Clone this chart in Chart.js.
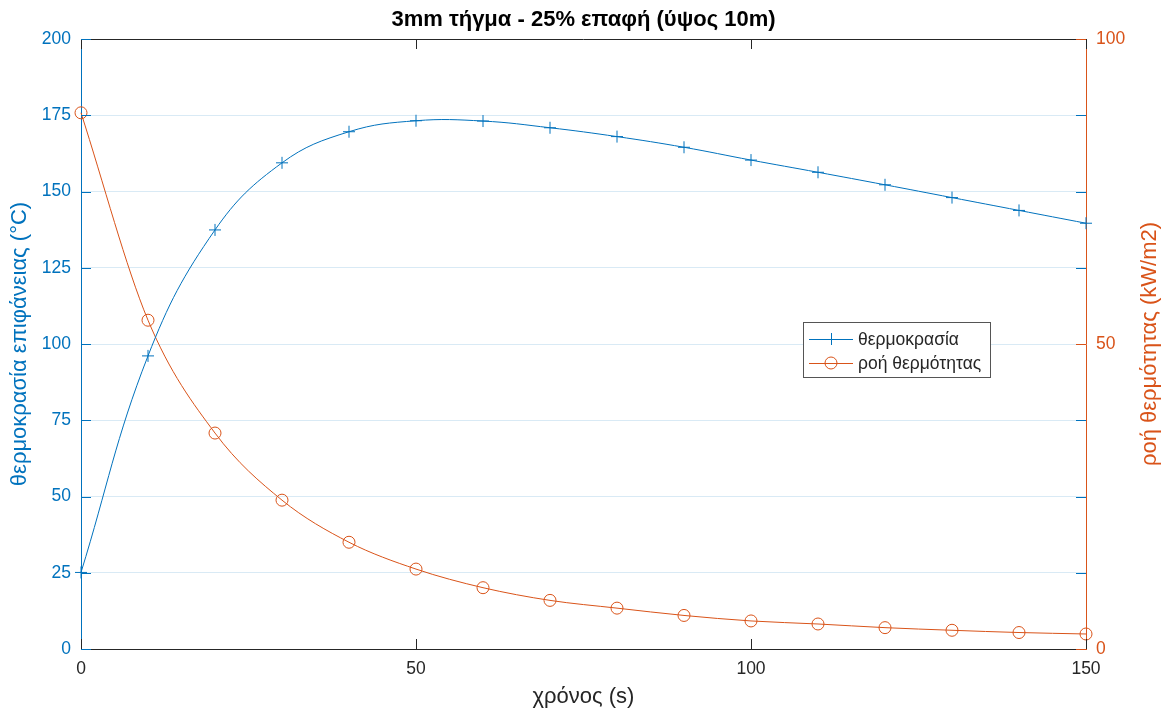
<!DOCTYPE html>
<html>
<head>
<meta charset="utf-8">
<script src="https://cdn.jsdelivr.net/npm/chart.js@4.4.1/dist/chart.umd.min.js"></script>
<style>
  html, body { margin: 0; padding: 0; background: #fff; }
  #wrap { width: 1166px; height: 715px; }
</style>
</head>
<body>
<div id="wrap"><canvas id="chart" width="1166" height="715"></canvas></div>
<script>
// ---- data ----
const timeS = [0, 10, 20, 30, 40, 50, 60, 70, 80, 90, 100, 110, 120, 130, 140, 150];
const temperature = [25.1, 96.1, 137.4, 159.4, 169.6, 173.2, 173.1, 170.9, 168.0, 164.5, 160.3, 156.3, 152.2, 148.0, 143.8, 139.6];
const heatFlux = [87.9, 53.9, 35.4, 24.4, 17.5, 13.1, 10.05, 7.97, 6.7, 5.5, 4.6, 4.1, 3.5, 3.07, 2.7, 2.46];

const xTicks = [0, 50, 100, 150];
const leftTicks = [0, 25, 50, 75, 100, 125, 150, 175, 200];
const rightTicks = [0, 50, 100];

const titleText = '3mm τήγμα - 25% επαφή (ύψος 10m)';
const xTitle = 'χρόνος (s)';
const leftTitle = 'θερμοκρασία επιφάνειας (°C)';
const rightTitle = 'ροή θερμότητας (kW/m2)';
const seriesNames = ['θερμοκρασία', 'ροή θερμότητας'];

const BLUE = '#0072BD';
const ORANGE = '#D95319';
const DARK = '#262626';
const FONT = '"Liberation Sans", Arial, sans-serif';
const TICK_SIZE = 17.5;

const toXY = (ys) => timeS.map((t, i) => ({ x: t, y: ys[i] }));

// MATLAB-like decorations: inward ticks, box, titles, legend
const decor = {
  id: 'decor',
  afterDraw(chart) {
    const { ctx, chartArea: a, scales } = chart;
    const L = 10;
    ctx.save();
    ctx.lineWidth = 1;

    // top border
    ctx.strokeStyle = DARK;
    ctx.beginPath();
    ctx.moveTo(a.left, a.top + 0.5);
    ctx.lineTo(a.right, a.top + 0.5);
    ctx.stroke();

    // x ticks (bottom + top)
    xTicks.forEach(v => {
      const px = Math.round(scales.x.getPixelForValue(v)) + 0.5;
      ctx.beginPath();
      ctx.moveTo(px, a.bottom); ctx.lineTo(px, a.bottom - L);
      ctx.moveTo(px, a.top); ctx.lineTo(px, a.top + L);
      ctx.stroke();
    });

    // left ticks (both sides, blue)
    ctx.strokeStyle = BLUE;
    leftTicks.forEach(v => {
      const py = Math.round(scales.yL.getPixelForValue(v)) + 0.5;
      ctx.beginPath();
      ctx.moveTo(a.left, py); ctx.lineTo(a.left + L, py);
      ctx.moveTo(a.right, py); ctx.lineTo(a.right - L, py);
      ctx.stroke();
    });

    // right ticks (orange)
    ctx.strokeStyle = ORANGE;
    rightTicks.forEach(v => {
      const py = Math.round(scales.yR.getPixelForValue(v)) + 0.5;
      ctx.beginPath();
      ctx.moveTo(a.right, py); ctx.lineTo(a.right - L, py);
      ctx.stroke();
    });

    // title
    ctx.fillStyle = '#000';
    ctx.font = 'bold 22px ' + FONT;
    ctx.textAlign = 'center';
    ctx.textBaseline = 'middle';
    ctx.fillText(titleText, (a.left + a.right) / 2, 20);

    // x title
    ctx.fillStyle = DARK;
    ctx.font = '22px ' + FONT;
    ctx.fillText(xTitle, (a.left + a.right) / 2, 697);

    // y titles (both read bottom -> top)
    const midY = (a.top + a.bottom) / 2;
    ctx.save();
    ctx.translate(20, midY);
    ctx.rotate(-Math.PI / 2);
    ctx.fillStyle = BLUE;
    ctx.fillText(leftTitle, 0, 0);
    ctx.restore();

    ctx.save();
    ctx.translate(1150, midY);
    ctx.rotate(-Math.PI / 2);
    ctx.fillStyle = ORANGE;
    ctx.fillText(rightTitle, 0, 0);
    ctx.restore();

    // legend
    const bx = 803.5, by = 322.5, bw = 187, bh = 55;
    ctx.fillStyle = '#fff';
    ctx.fillRect(bx, by, bw, bh);
    ctx.strokeStyle = '#555';
    ctx.strokeRect(bx, by, bw, bh);

    const rows = [
      { y: 339, color: BLUE, marker: 'cross', label: seriesNames[0] },
      { y: 363, color: ORANGE, marker: 'circle', label: seriesNames[1] },
    ];
    ctx.font = '17.5px ' + FONT;
    ctx.textAlign = 'left';
    rows.forEach(r => {
      ctx.strokeStyle = r.color;
      ctx.beginPath();
      ctx.moveTo(809, r.y + 0.5); ctx.lineTo(853, r.y + 0.5);
      ctx.stroke();
      ctx.beginPath();
      if (r.marker === 'cross') {
        ctx.moveTo(831.5, r.y - 6); ctx.lineTo(831.5, r.y + 6);
      } else {
        ctx.arc(831, r.y, 6, 0, Math.PI * 2);
      }
      ctx.stroke();
      ctx.fillStyle = DARK;
      ctx.fillText(r.label, 858, r.y + 1);
    });

    ctx.restore();
  }
};

new Chart(document.getElementById('chart'), {
  type: 'line',
  data: {
    datasets: [
      {
        label: seriesNames[0],
        data: toXY(temperature),
        yAxisID: 'yL',
        borderColor: BLUE,
        borderWidth: 1,
        tension: 0.4,
        pointStyle: 'cross',
        pointRadius: 6,
        pointBorderWidth: 1,
        pointBorderColor: BLUE,
        pointBackgroundColor: 'rgba(0,0,0,0)',
        clip: false,
      },
      {
        label: seriesNames[1],
        data: toXY(heatFlux),
        yAxisID: 'yR',
        borderColor: ORANGE,
        borderWidth: 1,
        cubicInterpolationMode: 'monotone',
        pointStyle: 'circle',
        pointRadius: 6,
        pointBorderWidth: 1,
        pointBorderColor: ORANGE,
        pointBackgroundColor: 'rgba(0,0,0,0)',
        clip: false,
      },
    ],
  },
  options: {
    responsive: false,
    animation: false,
    devicePixelRatio: 1,
    layout: { padding: { top: 39, left: 0, right: 0, bottom: 0 } },
    plugins: {
      legend: { display: false },
      tooltip: { enabled: false },
      title: { display: false },
    },
    scales: {
      x: {
        type: 'linear',
        min: 0, max: 150,
        afterFit: (s) => { s.height = 66; },
        afterBuildTicks: (s) => { s.ticks = xTicks.map(v => ({ value: v })); },
        grid: { display: false, drawTicks: false },
        border: { display: true, color: DARK, width: 1 },
        ticks: { color: DARK, font: { family: FONT, size: TICK_SIZE }, padding: 10, maxRotation: 0 },
      },
      yL: {
        type: 'linear',
        position: 'left',
        min: 0, max: 200,
        afterFit: (s) => { s.width = 81; },
        afterBuildTicks: (s) => { s.ticks = leftTicks.map(v => ({ value: v })); },
        grid: { color: 'rgba(0,114,189,0.15)', drawTicks: false },
        border: { display: true, color: BLUE, width: 1 },
        ticks: { color: BLUE, font: { family: FONT, size: TICK_SIZE }, padding: 10 },
      },
      yR: {
        type: 'linear',
        position: 'right',
        min: 0, max: 100,
        afterFit: (s) => { s.width = 80; },
        afterBuildTicks: (s) => { s.ticks = rightTicks.map(v => ({ value: v })); },
        grid: { drawOnChartArea: false, drawTicks: false },
        border: { display: true, color: ORANGE, width: 1 },
        ticks: { color: ORANGE, font: { family: FONT, size: TICK_SIZE }, padding: 10 },
      },
    },
  },
  plugins: [decor],
});
</script>
</body>
</html>
